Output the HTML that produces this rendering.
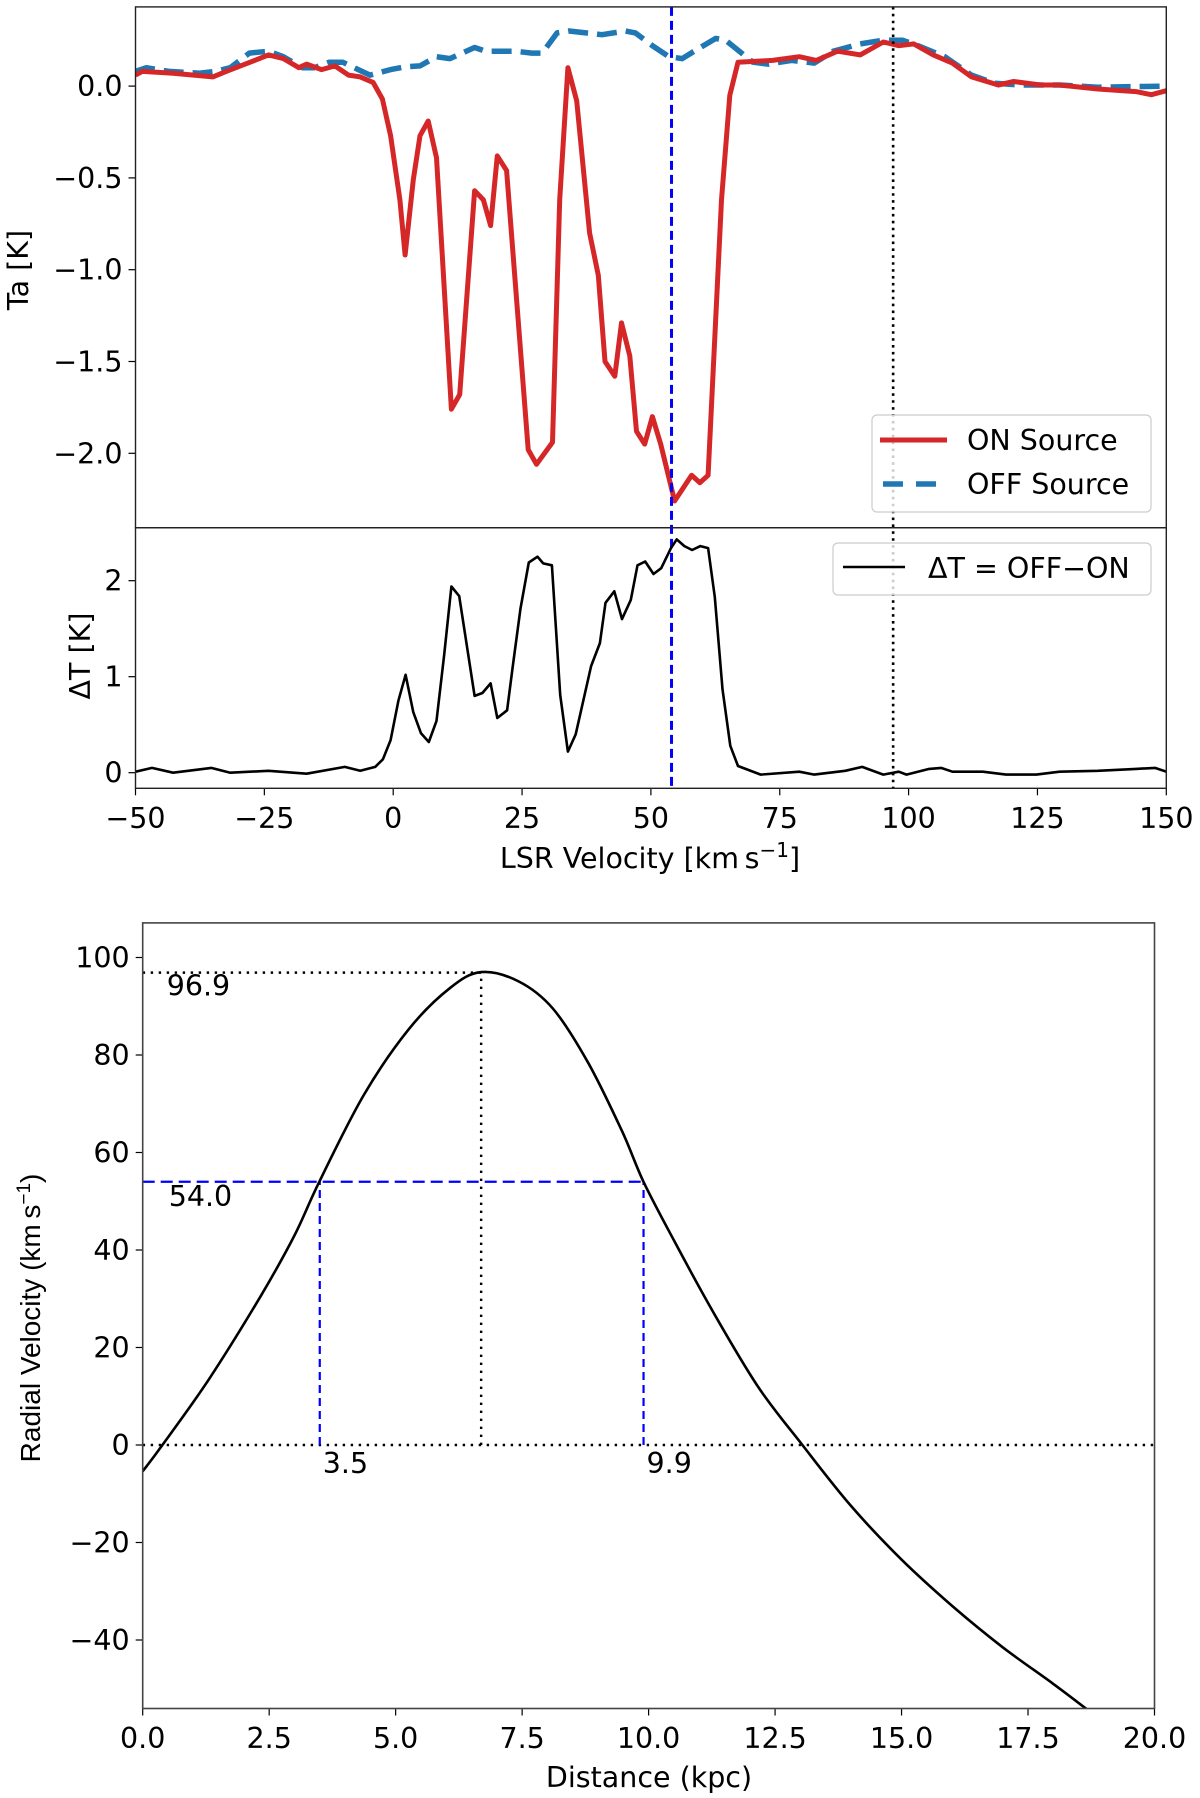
<!DOCTYPE html>
<html><head><meta charset="utf-8"><style>
html,body{margin:0;padding:0;background:#fff;}
svg{display:block;font-family:"DejaVu Sans","Liberation Sans",sans-serif;}
</style></head><body>
<svg id="fig" width="1200" height="1798" viewBox="0 0 1200 1798" xmlns="http://www.w3.org/2000/svg">
<rect width="1200" height="1798" fill="#fff"/>
<g id="g-top"></g>
<g id="g-low"></g>
<g id="g-rot"></g>
</svg>
<script>
const onVel=[-50,-48.7,-42.7,-35,-32.4,-28.7,-24.2,-21.3,-18.3,-16.8,-13.9,-11.3,-8.7,-6.4,-3.9,-2.1,-0.5,1.3,2.3,3.9,5.2,6.8,8.4,11.3,12.9,15.8,17.5,18.9,20.2,22.0,26.2,27.8,30.9,32.3,33.9,35.6,38.1,39.8,41.1,43.0,44.3,45.9,47.2,48.8,50.3,51.9,54.6,57.9,59.5,61.1,63.7,65.3,66.9,73.6,78.8,82.1,86.2,90.6,95.1,98.1,101,104.8,108.5,112.2,117.4,120.4,125.6,129.3,136.7,144.1,147.1,150];
const onTa=[0.06,0.08,0.07,0.05,0.08,0.12,0.17,0.15,0.10,0.12,0.09,0.11,0.06,0.05,0.02,-0.07,-0.27,-0.62,-0.92,-0.51,-0.27,-0.19,-0.39,-1.76,-1.68,-0.57,-0.62,-0.76,-0.38,-0.46,-1.98,-2.06,-1.94,-0.62,0.10,-0.08,-0.80,-1.03,-1.50,-1.58,-1.29,-1.47,-1.88,-1.95,-1.80,-1.95,-2.26,-2.12,-2.16,-2.12,-0.62,-0.05,0.13,0.14,0.16,0.14,0.19,0.17,0.24,0.22,0.23,0.17,0.125,0.05,0.006,0.025,0.006,0.006,-0.016,-0.03,-0.047,-0.025];
const offVel=[-50,-47.9,-43.5,-37.6,-34.6,-31.6,-27.9,-24.2,-21.3,-17.6,-15.3,-12.4,-9.8,-6.8,-4.5,-0.5,2.3,5.2,8.4,11,15.8,17.9,23.7,26.9,28.9,31.8,34.1,40.5,45.1,47,50.3,53.5,56.1,58.4,62.6,64.5,66.5,69.8,72.8,77.3,81.7,85.4,90.6,95.1,98.8,101.8,107,112.2,116.6,121.8,129.3,136.7,150];
const offTa=[0.08,0.10,0.08,0.07,0.08,0.10,0.18,0.19,0.16,0.10,0.10,0.13,0.13,0.09,0.06,0.09,0.105,0.11,0.16,0.15,0.21,0.19,0.19,0.18,0.18,0.29,0.30,0.28,0.30,0.29,0.22,0.16,0.15,0.19,0.26,0.25,0.205,0.13,0.12,0.14,0.125,0.19,0.23,0.25,0.25,0.22,0.16,0.06,0.016,0.006,0.006,-0.006,0];
const dVel=[-50,-46.8,-42.7,-35.3,-31.6,-24.2,-16.8,-9.4,-6.4,-3.5,-2,-0.5,1.0,2.4,3.9,5.4,6.9,8.4,9.9,11.3,12.8,15.8,17.3,18.9,20.2,22.1,23.2,24.7,26.3,28.0,29.1,30.8,32.4,33.9,35.4,38.4,40.1,41.2,42.9,44.4,46.1,47.4,48.9,50.5,52.0,53.9,55.0,56.5,58.0,59.6,61.1,62.4,63.9,65.4,66.9,71.3,78.8,81.7,87.7,91.0,95.1,98.1,99.6,104,106.3,108.5,114.4,118.9,124.8,129.3,136.7,144.1,147.8,150];
const dT=[0.01,0.05,0,0.05,0,0.02,-0.01,0.06,0.02,0.06,0.14,0.34,0.75,1.02,0.63,0.41,0.32,0.54,1.23,1.94,1.84,0.80,0.83,0.93,0.57,0.65,1.11,1.71,2.19,2.25,2.18,2.16,0.81,0.22,0.40,1.11,1.35,1.77,1.89,1.60,1.80,2.16,2.20,2.07,2.13,2.34,2.43,2.36,2.32,2.36,2.34,1.83,0.87,0.28,0.07,-0.02,0.01,-0.02,0.02,0.06,-0.02,0.01,-0.02,0.04,0.05,0.01,0.01,-0.02,-0.02,0.01,0.02,0.04,0.05,0.01];
const velTicks=[-50,-25,0,25,50,75,100,125,150];
const taTicks=[0,-0.5,-1,-1.5,-2];
const dTicks=[0,1,2];
const markVel=[54.0,97.0];
const distKpc=[0,0.39,1.31,2.33,3.0,3.49,4.37,5.26,6.07,6.69,7.43,8.11,8.8,9.47,9.9,10.5,11.27,12.16,13.04,14,15,16,17,18,18.7];
const radVel=[-5.4,0,13.5,30.5,43,54,71.8,85.3,93.7,97,95.1,89.5,78.5,64.5,54,42,27.4,12,0,-12.5,-23.5,-33,-41.5,-49,-54.5];
const distTicks=[0,2.5,5,7.5,10,12.5,15,17.5,20];
const rvTicks=[-40,-20,0,20,40,60,80,100];
const tangent=[6.69,96.9];
const kinDist=[3.5,9.9];
const srcVel=54.0;

const NS='http://www.w3.org/2000/svg';
function mk(parent,tag,attrs){const e=document.createElementNS(NS,tag);for(const k in attrs)e.setAttribute(k,attrs[k]);parent.appendChild(e);return e;}
const XL=135.5,XR=1166.3;
const vx=v=>XL+(v+50)*(XR-XL)/200;
const taY=t=>86.1-t*183.6;
const dY=t=>772.7-t*96.0;
const TOP=6.9,MID=527.7,BOT=788.3;
const gT=document.getElementById('g-top'),gL=document.getElementById('g-low'),gR=document.getElementById('g-rot');
function poly(g,xs,ys,fx,fy,attrs){return mk(g,'polyline',Object.assign({points:xs.map((x,i)=>fx(x).toFixed(1)+','+fy(ys[i]).toFixed(1)).join(' '),fill:'none','stroke-linejoin':'round'},attrs));}
function smooth(g,xs,ys,fx,fy,attrs){
 const P=xs.map((x,i)=>[fx(x),fy(ys[i])]);let d='M'+P[0][0].toFixed(1)+','+P[0][1].toFixed(1);
 for(let i=0;i<P.length-1;i++){const p0=P[Math.max(0,i-1)],p1=P[i],p2=P[i+1],p3=P[Math.min(P.length-1,i+2)];
  const c1=[p1[0]+(p2[0]-p0[0])/6,p1[1]+(p2[1]-p0[1])/6],c2=[p2[0]-(p3[0]-p1[0])/6,p2[1]-(p3[1]-p1[1])/6];
  d+=' C'+c1.map(v=>v.toFixed(1)).join(',')+' '+c2.map(v=>v.toFixed(1)).join(',')+' '+p2.map(v=>v.toFixed(1)).join(',');}
 return mk(g,'path',Object.assign({d:d,fill:'none'},attrs));}
function txt(g,x,y,s,attrs){const t=mk(g,'text',Object.assign({x:x,y:y,'font-size':28.5,fill:'#000'},attrs));t.textContent=s;return t;}
const fmtMinus=s=>s.replace('-','\u2212');

// top panel
let c=mk(gT,'clipPath',{id:'clipT'});mk(c,'rect',{x:XL,y:TOP,width:XR-XL,height:MID-TOP});
let off=poly(gT,offVel,offTa,vx,taY,{stroke:'#1f77b4','stroke-width':5.5,'stroke-dasharray':'20,9','clip-path':'url(#clipT)'});

let on=poly(gT,onVel,onTa,vx,taY,{stroke:'#d62728','stroke-width':5,'clip-path':'url(#clipT)'});

taTicks.forEach(t=>{const y=taY(t);mk(gT,'line',{x1:XL-7,x2:XL,y1:y,y2:y,stroke:'#000','stroke-width':1.2});
 const l=txt(gT,XL-13,y+10,fmtMinus(t.toFixed(1)),{'text-anchor':'end'});});
let yl=txt(gT,0,0,'Ta [K]',{transform:'translate(28,270) rotate(-90)','text-anchor':'middle'});


// lower panel
let c2=mk(gL,'clipPath',{id:'clipL'});mk(c2,'rect',{x:XL,y:MID,width:XR-XL,height:BOT-MID});
let dl=poly(gL,dVel,dT,vx,dY,{stroke:'#000','stroke-width':2.6,'clip-path':'url(#clipL)'});

dTicks.forEach(t=>{const y=dY(t);mk(gL,'line',{x1:XL-7,x2:XL,y1:y,y2:y,stroke:'#000','stroke-width':1.2});
 const l=txt(gL,XL-13,y+10,String(t),{'text-anchor':'end'});});
velTicks.forEach(v=>{const x=vx(v);mk(gL,'line',{x1:x,x2:x,y1:BOT,y2:BOT+7,stroke:'#000','stroke-width':1.2});
 const l=txt(gL,x,828,fmtMinus(String(v)),{'text-anchor':'middle'});});
let yl2=txt(gL,0,0,'\u0394T [K]',{transform:'translate(90,656) rotate(-90)','text-anchor':'middle'});

let xl=mk(gL,'text',{x:650,y:868,'font-size':28.5,'text-anchor':'middle'});
xl.innerHTML='LSR Velocity [km\u2009s<tspan dy="-11" font-size="20">\u22121</tspan><tspan dy="11">]</tspan>';


// vertical markers
let m1=mk(gT,'line',{x1:vx(markVel[0]),x2:vx(markVel[0]),y1:TOP,y2:BOT,stroke:'#0000ff','stroke-width':3,'stroke-dasharray':'9,5'});

let m2=mk(gT,'line',{x1:vx(markVel[1]),x2:vx(markVel[1]),y1:TOP,y2:BOT,stroke:'#000','stroke-width':2.6,'stroke-dasharray':'2.6,4.3'});


// legends
let lg=mk(gT,'g',{});
mk(lg,'rect',{x:872,y:415,width:279,height:97,rx:5,fill:'#fff','fill-opacity':0.8,stroke:'#ccc','stroke-width':1.2});
mk(lg,'line',{x1:880,x2:947,y1:440,y2:440,stroke:'#d62728','stroke-width':5});
mk(lg,'line',{x1:883,x2:945,y1:484,y2:484,stroke:'#1f77b4','stroke-width':5.5,'stroke-dasharray':'20,13'});
let le1=txt(lg,967,450,'ON Source',{});
let le2=txt(lg,967,494,'OFF Source',{});
let lg2=mk(gL,'g',{});
mk(lg2,'rect',{x:833,y:543,width:318,height:52,rx:5,fill:'#fff','fill-opacity':0.8,stroke:'#ccc','stroke-width':1.2});
mk(lg2,'line',{x1:843,x2:905,y1:567,y2:567,stroke:'#000','stroke-width':2.6});
let le3=txt(lg2,928,578,'\u0394T = OFF\u2212ON',{});

// spines
mk(gT,'rect',{x:XL,y:TOP,width:XR-XL,height:MID-TOP,fill:'none',stroke:'#222','stroke-width':1.4});
mk(gL,'rect',{x:XL,y:MID,width:XR-XL,height:BOT-MID,fill:'none',stroke:'#222','stroke-width':1.4});

// rotation curve
const RL=142.7,RR=1154.5,RT=922.9,RB=1708.5;
const dx=d=>RL+d*(RR-RL)/20;
const ry=v=>1445-v*4.875;
let c3=mk(gR,'clipPath',{id:'clipR'});mk(c3,'rect',{x:RL,y:RT,width:RR-RL,height:RB-RT});
let z=mk(gR,'line',{x1:RL,x2:RR,y1:ry(0),y2:ry(0),stroke:'#000','stroke-width':2.4,'stroke-dasharray':'2.4,5.6'});

let th=mk(gR,'line',{x1:RL,x2:dx(tangent[0]),y1:ry(tangent[1]),y2:ry(tangent[1]),stroke:'#000','stroke-width':2.4,'stroke-dasharray':'2.4,5.6'});

let tv=mk(gR,'line',{x1:dx(tangent[0]),x2:dx(tangent[0]),y1:ry(0),y2:ry(tangent[1]),stroke:'#000','stroke-width':2.4,'stroke-dasharray':'2.4,5.6'});

let sh=mk(gR,'line',{x1:RL,x2:dx(kinDist[1]),y1:ry(srcVel),y2:ry(srcVel),stroke:'#0000ff','stroke-width':2.2,'stroke-dasharray':'12,6'});

kinDist.forEach((d,i)=>{const l=mk(gR,'line',{x1:dx(d),x2:dx(d),y1:ry(0),y2:ry(srcVel),stroke:'#0000ff','stroke-width':2.2,'stroke-dasharray':'8,5'});
 
 const t=txt(gR,dx(d)+3,ry(0)+28,d.toFixed(1),{});});
let a1=txt(gR,RL+24,ry(tangent[1])+23,tangent[1].toFixed(1),{});
let a2=txt(gR,RL+26,ry(srcVel)+24,srcVel.toFixed(1),{});
let rc=smooth(gR,distKpc,radVel,dx,ry,{stroke:'#000','stroke-width':2.6,'clip-path':'url(#clipR)'});

rvTicks.forEach(v=>{const y=ry(v);mk(gR,'line',{x1:RL-7,x2:RL,y1:y,y2:y,stroke:'#000','stroke-width':1.2});
 const l=txt(gR,RL-13,y+10,fmtMinus(String(v)),{'text-anchor':'end'});});
distTicks.forEach(d=>{const x=dx(d);mk(gR,'line',{x1:x,x2:x,y1:RB,y2:RB+7,stroke:'#000','stroke-width':1.2});
 const l=txt(gR,x,1748,d.toFixed(1),{'text-anchor':'middle'});});
mk(gR,'rect',{x:RL,y:RT,width:RR-RL,height:RB-RT,fill:'none',stroke:'#444','stroke-width':1.6});
let ryl=mk(gR,'text',{transform:'translate(40,1318) rotate(-90)','font-size':28,'text-anchor':'middle','font-family':'"Liberation Sans Narrow","Liberation Sans",sans-serif'});
ryl.innerHTML='Radial Velocity (km\u2009s<tspan dy="-10" font-size="19">\u22121</tspan><tspan dy="10">)</tspan>';

let dxl=txt(gR,649,1787,'Distance (kpc)',{'text-anchor':'middle'});

</script>
</body></html>
